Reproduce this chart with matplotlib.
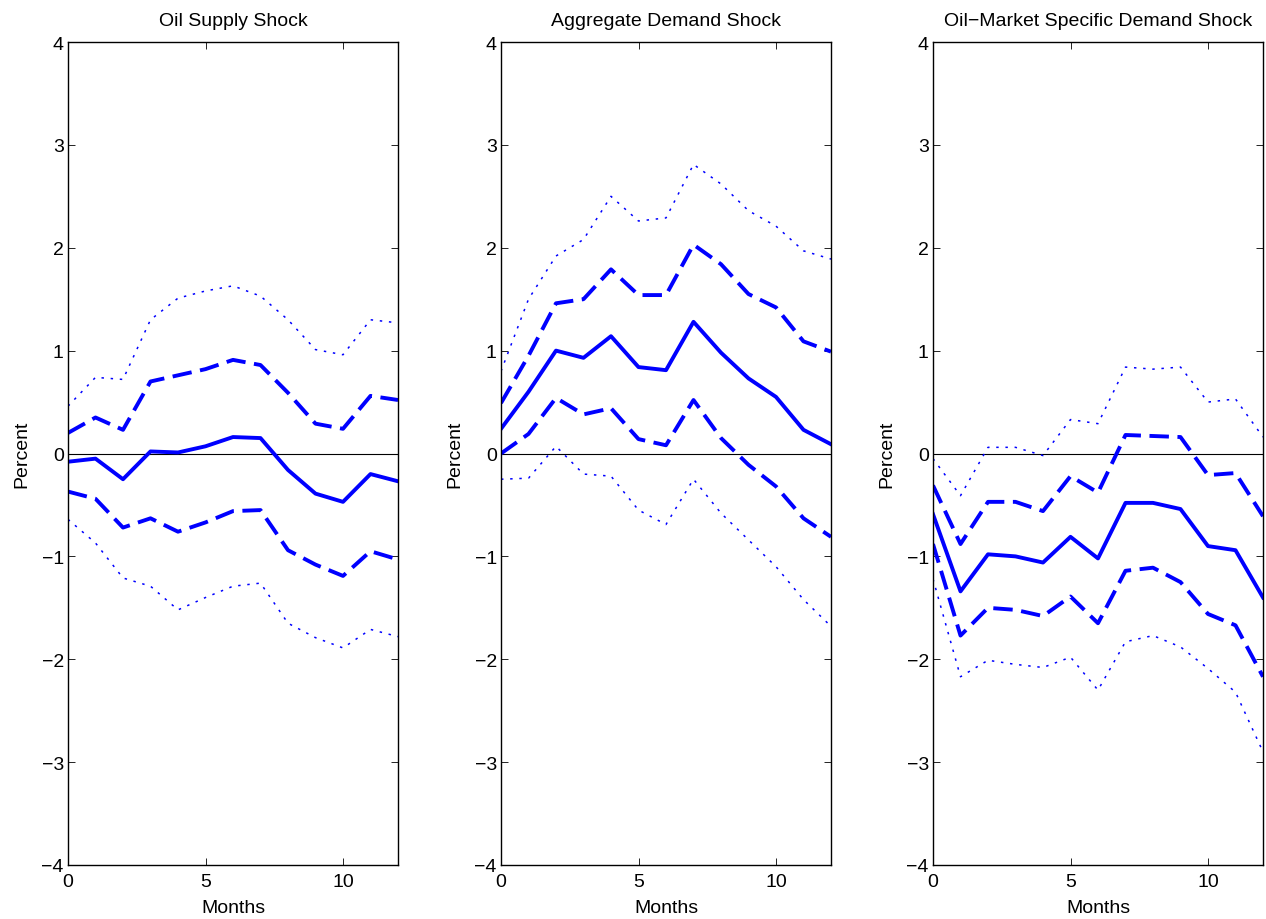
import numpy as np
import matplotlib
matplotlib.use("Agg")
import matplotlib.pyplot as plt

plt.rcParams['font.family'] = ['Liberation Sans', 'DejaVu Sans']

months = np.arange(13)

titles = ["Oil Supply Shock", "Aggregate Demand Shock", "Oil\u2212Market Specific Demand Shock"]

# Oil supply shock
supply_mid = [-0.08, -0.05, -0.25, 0.02, 0.01, 0.07, 0.16, 0.15, -0.16, -0.39, -0.47, -0.20, -0.27]
supply_up1 = [0.20, 0.35, 0.23, 0.70, 0.76, 0.82, 0.91, 0.86, 0.59, 0.29, 0.24, 0.56, 0.52]
supply_lo1 = [-0.37, -0.44, -0.72, -0.63, -0.76, -0.67, -0.56, -0.55, -0.94, -1.08, -1.19, -0.95, -1.03]
supply_up2 = [0.46, 0.74, 0.72, 1.30, 1.51, 1.58, 1.63, 1.53, 1.30, 1.01, 0.96, 1.30, 1.27]
supply_lo2 = [-0.64, -0.87, -1.21, -1.29, -1.52, -1.40, -1.29, -1.26, -1.65, -1.79, -1.89, -1.71, -1.78]

# Aggregate demand shock
agg_mid = [0.24, 0.60, 1.00, 0.93, 1.14, 0.84, 0.81, 1.28, 0.98, 0.73, 0.55, 0.23, 0.09]
agg_up1 = [0.49, 0.95, 1.46, 1.50, 1.79, 1.54, 1.54, 2.03, 1.84, 1.55, 1.42, 1.09, 0.99]
agg_lo1 = [0.00, 0.19, 0.54, 0.38, 0.44, 0.14, 0.08, 0.52, 0.15, -0.11, -0.32, -0.63, -0.81]
agg_up2 = [0.80, 1.50, 1.92, 2.08, 2.50, 2.26, 2.29, 2.81, 2.62, 2.36, 2.21, 1.97, 1.89]
agg_lo2 = [-0.25, -0.24, 0.07, -0.20, -0.22, -0.55, -0.69, -0.25, -0.58, -0.84, -1.10, -1.42, -1.68]

# Oil-market specific demand shock
spec_mid = [-0.59, -1.34, -0.98, -1.00, -1.06, -0.81, -1.02, -0.48, -0.48, -0.54, -0.90, -0.94, -1.40]
spec_up1 = [-0.31, -0.88, -0.47, -0.47, -0.56, -0.22, -0.38, 0.18, 0.17, 0.16, -0.21, -0.19, -0.61]
spec_lo1 = [-0.88, -1.77, -1.50, -1.52, -1.58, -1.39, -1.65, -1.14, -1.11, -1.25, -1.56, -1.67, -2.17]
spec_up2 = [-0.05, -0.41, 0.06, 0.06, -0.02, 0.33, 0.29, 0.84, 0.82, 0.84, 0.50, 0.53, 0.16]
spec_lo2 = [-1.22, -2.17, -2.01, -2.05, -2.08, -1.98, -2.30, -1.83, -1.77, -1.88, -2.09, -2.32, -2.90]

panels = [
    (supply_mid, supply_up1, supply_lo1, supply_up2, supply_lo2),
    (agg_mid, agg_up1, agg_lo1, agg_up2, agg_lo2),
    (spec_mid, spec_up1, spec_lo1, spec_up2, spec_lo2),
]

fig = plt.figure(figsize=(12.66, 9.2), dpi=100)
lefts = [68 / 1266, 501 / 1266, 933 / 1266]
w = 330 / 1266
b = 1 - 866 / 920
h = (866 - 43) / 920

for i, (mid, up1, lo1, up2, lo2) in enumerate(panels):
    ax = fig.add_axes([lefts[i], b, w, h])
    ax.axhline(0, color='black', lw=0.8)
    ax.plot(months, mid, color='blue', lw=2.8)
    ax.plot(months, up1, color='blue', lw=2.8, dashes=(5, 2.2))
    ax.plot(months, lo1, color='blue', lw=2.8, dashes=(5, 2.2))
    ax.plot(months, up2, color='blue', lw=1.1, dashes=(1.6, 4.4))
    ax.plot(months, lo2, color='blue', lw=1.1, dashes=(1.6, 4.4))
    ax.set_xlim(0, 12)
    ax.set_ylim(-4, 4)
    ax.set_xticks([0, 5, 10])
    ax.set_yticks(range(-4, 5))
    ax.tick_params(direction='in', top=True, right=True, labelsize=14, length=5, width=0.6, pad=3)
    ax.tick_params(axis='x', pad=6)
    for s in ax.spines.values():
        s.set_linewidth(1.0)
    ax.set_title(titles[i], fontsize=14, pad=12)
    ax.set_xlabel("Months", fontsize=14, labelpad=6)
    ax.set_ylabel("Percent", fontsize=14, labelpad=8)

fig.savefig("out.png", dpi=100)
